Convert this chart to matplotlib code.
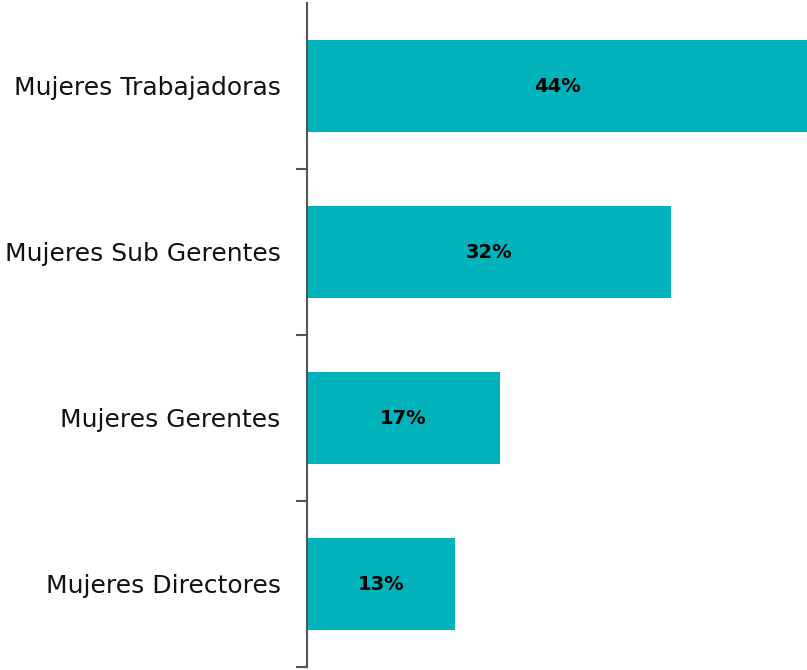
import matplotlib
matplotlib.use("Agg")
import matplotlib.pyplot as plt
import numpy as np

categories = ["Mujeres Trabajadoras", "Mujeres Sub Gerentes", "Mujeres Gerentes", "Mujeres Directores"]
values = [44, 32, 17, 13]
labels = ["44%", "32%", "17%", "13%"]

fig = plt.figure(figsize=(8.07, 6.70), dpi=100)
ax = fig.add_axes([307/807, 3/670, 500/807, 664/670])

y = np.arange(len(categories))
ax.barh(y, values, height=0.55, color="#00B3BA", zorder=2)
for yi, v, lab in zip(y, values, labels):
    ax.text(v/2, yi, lab, ha="center", va="center", fontsize=14, fontweight="bold", color="black")

ax.set_xlim(0, 44)
ax.set_ylim(len(categories)-0.5, -0.5)
for s in ["top", "right", "bottom"]:
    ax.spines[s].set_visible(False)
ax.spines["left"].set_color("#555555")
ax.spines["left"].set_linewidth(1.5)
ax.set_xticks([])
ax.set_yticks(np.arange(0.5, len(categories)), labels=[""]*len(categories))
ax.tick_params(axis="y", which="major", length=8, width=1.5, color="#555555")
ax.set_yticks(y, labels=categories, minor=True)
ax.tick_params(axis="y", which="minor", length=0, pad=19, labelsize=18, labelcolor="#111111")

fig.savefig("out.png", dpi=100)
